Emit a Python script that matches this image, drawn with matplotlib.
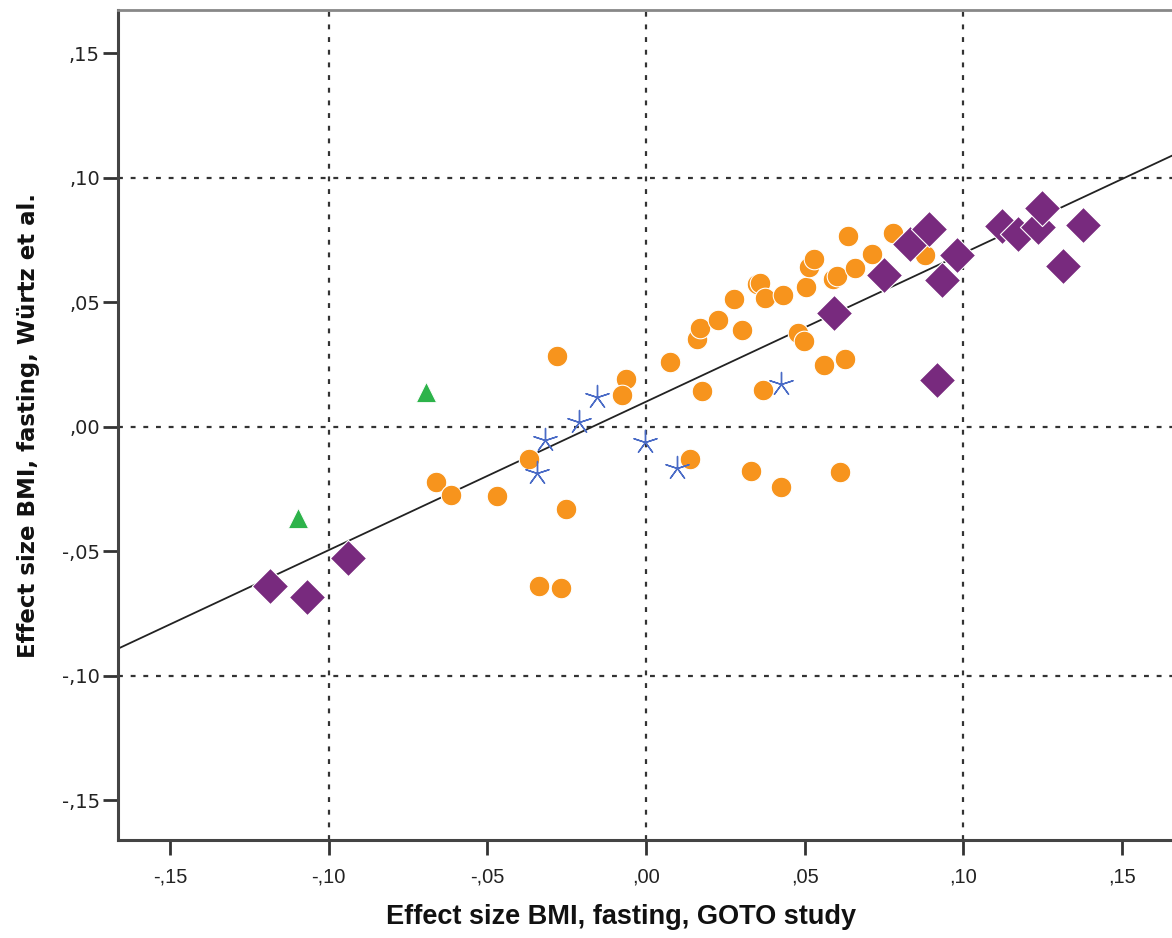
import numpy as np
import matplotlib
matplotlib.use('Agg')
import matplotlib.pyplot as plt
from matplotlib.ticker import FuncFormatter

# ── Data ──────────────────────────────────────────────────────────────────────
circle_x = [-0.028, -0.0063, -0.0076, -0.0369, -0.0662, -0.0615, -0.047, -0.0252,
            -0.0337, -0.0268, 0.0076, 0.0176, 0.016, 0.017, 0.0227, 0.0277, 0.0303,
            0.035, 0.0359, 0.0375, 0.0432, 0.0369, 0.0479, 0.0498, 0.0504, 0.0514,
            0.0529, 0.0561, 0.0627, 0.0589, 0.0602, 0.0659, 0.0637, 0.0712, 0.0778,
            0.0879, 0.0139, 0.0331, 0.0425, 0.0611]
circle_y = [0.0285, 0.0193, 0.0129, -0.0129, -0.0221, -0.0273, -0.0277, -0.0329,
            -0.0639, -0.0647, 0.0261, 0.0145, 0.0353, 0.0398, 0.0430, 0.0514, 0.0390,
            0.0574, 0.0578, 0.0518, 0.0530, 0.0149, 0.0378, 0.0345, 0.0562, 0.0643,
            0.0675, 0.0249, 0.0273, 0.0594, 0.0606, 0.0639, 0.0767, 0.0695, 0.0779,
            0.0691, -0.0129, -0.0177, -0.0241, -0.0181]

star_x = [-0.0318, -0.0344, -0.0211, -0.0154, -0.0003, 0.0098, 0.0425]
star_y = [-0.0052, -0.0185, 0.0020, 0.0120, -0.0060, -0.0165, 0.0173]

tri_x = [-0.0693, -0.1097]
tri_y = [0.0141, -0.0365]

diam_x = [-0.1185, -0.1068, -0.0939, 0.0593, 0.075, 0.0832, 0.0892, 0.098, 0.0933,
          0.0917, 0.1122, 0.1172, 0.1235, 0.1248, 0.1377, 0.1314]
diam_y = [-0.0639, -0.0683, -0.0526, 0.0458, 0.0610, 0.0735, 0.0795, 0.0691, 0.0590,
          0.0189, 0.0807, 0.0775, 0.0803, 0.0876, 0.0811, 0.0647]

fit_intercept = 0.0100
fit_slope = 0.596

ticks = [-0.15, -0.10, -0.05, 0.00, 0.05, 0.10, 0.15]
grid_vals = [-0.10, 0.00, 0.10]

# ── Figure ────────────────────────────────────────────────────────────────────
fig = plt.figure(figsize=(11.72, 9.38), dpi=100)
ax = fig.add_axes([0.1007, 0.1045, 0.8993, 0.8848])
ax.set_xlim(-0.1664, 0.1658)
ax.set_ylim(-0.166, 0.1673)

for g in grid_vals:
    ax.axvline(g, color='#333333', lw=1.6, ls=(0, (2.2, 3.5)), zorder=1)
    ax.axhline(g, color='#333333', lw=1.6, ls=(0, (2.2, 3.5)), zorder=1)

ax.axline((0, fit_intercept), slope=fit_slope, color='#222222', lw=1.3, zorder=2)

ax.scatter(circle_x, circle_y, s=220, marker='o', color='#f7941d',
           edgecolors='white', linewidths=0.8, zorder=3)
ax.scatter(diam_x, diam_y, s=340, marker='D', color='#782a7e',
           edgecolors='white', linewidths=0.8, zorder=4)
ax.scatter(tri_x, tri_y, s=210, marker='^', color='#2db34a',
           edgecolors='white', linewidths=0.6, zorder=3)
ax.scatter(star_x, star_y, s=300, marker=(5, 2, 0), color='#4a6bc6',
           linewidths=1.0, zorder=5)

fmt = FuncFormatter(lambda v, p: ('-' if v < -1e-9 else '') + (',%02d' % round(abs(v) * 100)))
ax.set_xticks(ticks)
ax.set_yticks(ticks)
ax.xaxis.set_major_formatter(fmt)
ax.yaxis.set_major_formatter(fmt)

ax.tick_params(axis='y', direction='out', length=11, width=2, color='#333333',
               labelsize=14, labelcolor='#222222', pad=2)
ax.tick_params(axis='x', direction='out', length=11, width=2, color='#333333',
               labelsize=14.5, labelcolor='#222222', pad=9)
for lab in ax.get_xticklabels():
    lab.set_family(['Liberation Sans', 'DejaVu Sans'])

for side in ['left', 'bottom']:
    ax.spines[side].set_color('#444444')
    ax.spines[side].set_linewidth(2.2)
ax.spines['top'].set_color('#888888')
ax.spines['top'].set_linewidth(2.0)
ax.spines['right'].set_visible(False)

ax.set_ylabel('Effect size BMI, fasting, Würtz et al.', fontsize=16.5,
              fontweight='bold', color='#111111')
ax.yaxis.set_label_coords(-0.074, 0.5)
ax.set_xlabel('Effect size BMI, fasting, GOTO study', fontsize=19.5,
              fontweight='bold', color='#111111',
              family=['Liberation Sans', 'DejaVu Sans'])
ax.xaxis.set_label_coords(0.477, -0.077)

fig.savefig('out.png', dpi=100, facecolor='white')
